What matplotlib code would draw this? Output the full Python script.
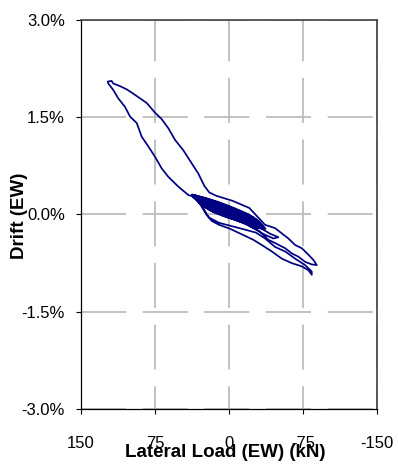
import matplotlib
matplotlib.use("Agg")
import matplotlib.pyplot as plt

plt.rcParams['font.family'] = ['Liberation Sans', 'DejaVu Sans']
plt.rcParams['axes.unicode_minus'] = False
plt.rcParams['lines.scale_dashes'] = False

# ticks
x_ticks = [150, 75, 0, -75, -150]
x_tick_labels = ['150', '75', '0', '-75', '-150']
y_ticks = [3.0, 1.5, 0.0, -1.5, -3.0]
y_tick_labels = ['3.0%', '1.5%', '0.0%', '-1.5%', '-3.0%']

# small cycles around the origin (load kN, drift %)
cycles_load = [0, 10, 0, -10, 0, 10,
               28, 15, 0, -15, -25, -15, 0, 15,
               30, 15, 0, -15, -27, -15, 0, 15,
               32, 20, 0, -20, -29, -20, 0, 20,
               33, 20, 0, -20, -30, -20, 0, 20,
               34, 20, 0, -20, -31, -20, 0, 20,
               35, 20, 0, -20, -32, -20, 0, 20,
               36, 20, 0, -20, -33, -20, 0, 20,
               37, 20, 0, -20, -34, -20, 0, 20,
               37.5, 25, 10, -5, -20, -28, -35, -25, -10, 5, 20, 30,
               37, 25, 5, -10, -25, -36, -28, -12, 3, 15, 27,
               36, 22, 2, -18, -30, -37, -30, -15, 0, 17, 28, 37,
               30]
cycles_drift = [0.05, 0.10, 0.06, -0.01, 0.04, 0.11,
                0.22, 0.14, 0.05, -0.04, -0.11, -0.05, 0.03, 0.12,
                0.24, 0.15, 0.06, -0.03, -0.12, -0.06, 0.02, 0.11,
                0.25, 0.18, 0.07, -0.06, -0.14, -0.09, 0.01, 0.13,
                0.26, 0.19, 0.08, -0.05, -0.15, -0.10, 0.00, 0.12,
                0.27, 0.20, 0.09, -0.04, -0.16, -0.11, -0.01, 0.11,
                0.28, 0.21, 0.10, -0.03, -0.17, -0.12, -0.02, 0.10,
                0.29, 0.22, 0.11, -0.02, -0.19, -0.13, -0.03, 0.09,
                0.30, 0.23, 0.12, -0.01, -0.18, -0.14, -0.04, 0.08,
                0.31, 0.26, 0.19, 0.10, 0.00, -0.08, -0.20, -0.18, -0.10, -0.02, 0.07, 0.17,
                0.30, 0.25, 0.15, 0.06, -0.05, -0.22, -0.20, -0.11, -0.04, 0.03, 0.14,
                0.30, 0.24, 0.13, 0.01, -0.10, -0.22, -0.21, -0.13, -0.05, 0.05, 0.16, 0.28,
                0.18]

# excursion to the lower negative tip and back along the lowest line
tip2_load = [25, 20, 9.8, -10.4, -27.4, -36.5, -46.6, -56.8, -66.9, -77, -83.8, -83.8,
             -80.4, -73.7, -63.5, -53.4, -43.3, -33.1, -24.6, -12, -1, 10, 17.5, 22, 26, 32,
             -33, -42, -50, -45, -36, -20, 0, 20, 37]
tip2_drift = [0.05, -0.05, -0.13, -0.21, -0.28, -0.37, -0.50, -0.57, -0.68, -0.78, -0.88, -0.93,
              -0.86, -0.80, -0.75, -0.68, -0.57, -0.47, -0.39, -0.30, -0.22, -0.16, -0.10, -0.02, 0.10, 0.22,
              -0.22, -0.30, -0.35, -0.37, -0.31, -0.17, -0.04, 0.09, 0.28]

# large positive cycle, then down to the upper negative tip and back
big_load = [41.2, 51.4, 61.5, 68.2, 75.0, 81.8, 88.5, 93.5, 100.3, 105.4, 112.2, 117.3, 122.3, 122.9, 119,
            117.3, 110.5, 103.7, 98.6, 91.9, 83.4, 75.0, 68.2, 61.5, 54.7, 46.3, 37.8, 31.1, 25.0, 20.0,
            13.2, -3.7, -20.6, -28, -36.5, -46.6, -51.7, -60.1, -66.9, -73.7, -80.4, -85.4, -88.9,
            -83.8, -77, -70.2, -63.5, -56.8, -46.6, -39.8, -36.5, -30, -20]
big_drift = [0.30, 0.43, 0.58, 0.71, 0.89, 1.05, 1.20, 1.41, 1.51, 1.66, 1.79, 1.92, 2.02, 2.05, 2.06,
             2.02, 1.98, 1.93, 1.88, 1.81, 1.72, 1.57, 1.47, 1.33, 1.15, 0.99, 0.79, 0.63, 0.44, 0.34,
             0.29, 0.21, 0.10, -0.02, -0.16, -0.21, -0.27, -0.37, -0.47, -0.52, -0.62, -0.70, -0.78,
             -0.77, -0.73, -0.65, -0.60, -0.52, -0.44, -0.39, -0.34, -0.25, -0.17]

load = cycles_load + tip2_load + big_load
drift = cycles_drift + tip2_drift + big_drift

fig = plt.figure(figsize=(3.98, 4.71), dpi=100)
ax = fig.add_axes([0.2035, 0.1316, 0.744, 0.826])

ax.plot(load, drift, color='#000080', lw=1.25, zorder=3)

ax.set_xlim(150, -150)
ax.set_ylim(-3.0, 3.0)
ax.set_xticks(x_ticks)
ax.set_xticklabels(x_tick_labels)
ax.set_yticks(y_ticks)
ax.set_yticklabels(y_tick_labels)

ax.tick_params(axis='both', direction='out', length=3.6, width=0.8, labelsize=12, colors='black')
ax.tick_params(axis='y', pad=8)
ax.tick_params(axis='x', pad=15.5)

# dashed grid, like the spreadsheet original
ax.xaxis.grid(True, color='#bdbdbd', lw=1.3, linestyle=(16, (32.4, 12)))
ax.yaxis.grid(True, color='#bdbdbd', lw=1.3, linestyle=(0, (32.4, 12)))
ax.set_axisbelow(True)

for side in ['left', 'bottom']:
    ax.spines[side].set_color('black')
    ax.spines[side].set_linewidth(0.9)
for side in ['top', 'right']:
    ax.spines[side].set_color('#404040')
    ax.spines[side].set_linewidth(1.2)

ax.set_xlabel('Lateral Load (EW) (kN)', fontsize=13.5, fontweight='bold')
ax.xaxis.set_label_coords(0.4875, -0.089)
ax.set_ylabel('Drift (EW)', fontsize=13.5, fontweight='bold')
ax.yaxis.set_label_coords(-0.179, 0.496)

fig.savefig('out.png', dpi=100)
